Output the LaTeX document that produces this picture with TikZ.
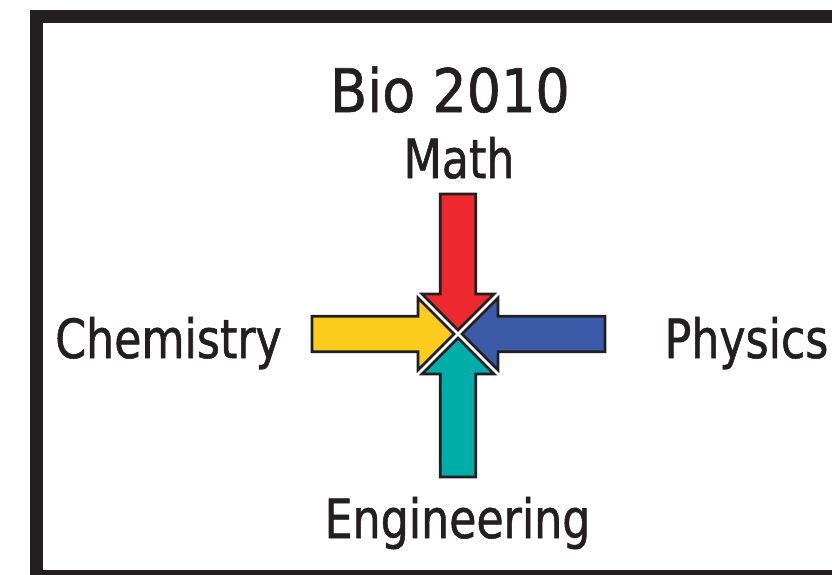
\documentclass[tikz,border=0pt]{standalone}
\usepackage{fontspec}
\newfontfamily\labfont{DejaVu Sans}[FakeStretch=0.82,FakeBold=1]
\newfontfamily\titfont{DejaVu Sans}[FakeStretch=0.9,FakeBold=1]
\definecolor{framecol}{RGB}{35,31,32}
\definecolor{redA}{RGB}{237,41,47}
\definecolor{yelA}{RGB}{252,204,28}
\definecolor{bluA}{RGB}{59,90,167}
\definecolor{tealA}{RGB}{0,173,169}
\tikzset{
  lab/.style={anchor=base, inner sep=0pt, text=framecol, font=\labfont\fontsize{54}{60}\selectfont},
  tit/.style={anchor=base, inner sep=0pt, text=framecol, font=\titfont\fontsize{60}{66}\selectfont},
  bigarrow/.style={draw=framecol, line width=2.7pt, line join=miter, miter limit=10},
}
\begin{document}
\begin{tikzpicture}[x=1pt,y=-1pt]
\useasboundingbox (0,0) rectangle (832,574);
\draw[framecol, line width=13pt] (36.5,16.5) rectangle (850,576.5);
% arrows: local shape points from the left toward the centre
\newcommand\arrowshape[1]{(-4,0) -- (-40,-36) -- (-40,-17.7) -- (-#1,-17.7) -- (-#1,17.7) -- (-40,17.7) -- (-40,36) -- cycle}
\draw[bigarrow, fill=yelA, shift={(458,334)}] \arrowshape{146};
\draw[bigarrow, fill=redA, shift={(458,334)}, rotate=-90] \arrowshape{140};
\draw[bigarrow, fill=bluA, shift={(458,334)}, rotate=180] \arrowshape{147};
\draw[bigarrow, fill=tealA, shift={(458,334)}, rotate=90] \arrowshape{143};
\node[tit] (bio) at (450,112) {Bio 2010};
\node[lab] (math) at (459,178) {Math};
\node[lab] (chem) at (168.5,358) {Chemistry};
\node[lab] (phys) at (746.5,358) {Physics};
\node[lab] (eng) at (457.5,538) {Engineering};
\end{tikzpicture}
\end{document}
